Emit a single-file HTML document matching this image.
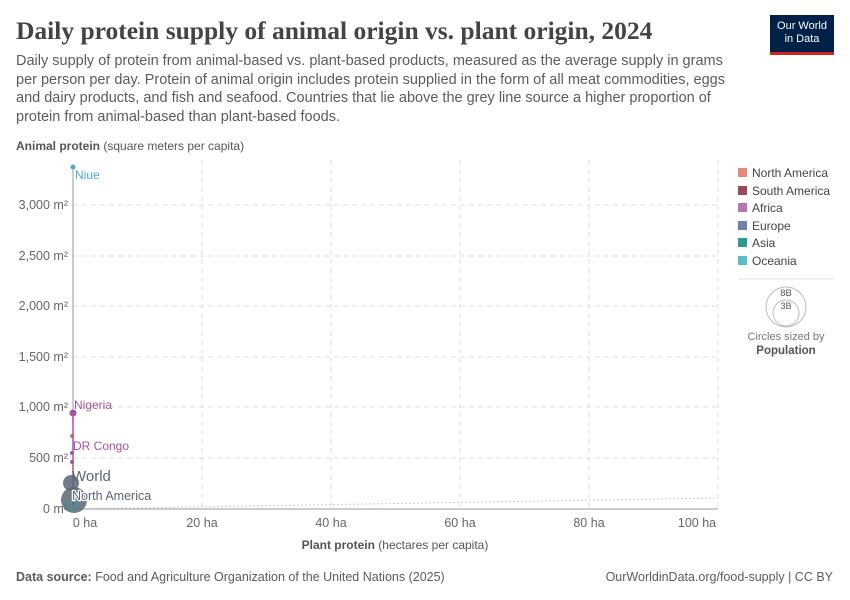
<!DOCTYPE html>
<html><head><meta charset="utf-8"><style>
body{margin:0;width:850px;height:600px;background:#fff;font-family:"Liberation Sans",sans-serif;overflow:hidden;position:relative}
.t{position:absolute;white-space:nowrap}
</style></head><body>
<div class="t" style="left:16px;top:16px;font-family:'Liberation Serif',serif;font-size:25.5px;font-weight:bold;color:#444">Daily protein supply of animal origin vs. plant origin, 2024</div>
<div style="position:absolute;left:770px;top:15px;width:64px;height:37px;background:#002147;border-bottom:3px solid #ce261e;color:#fff;font-size:11px;line-height:13px;text-align:center;padding-top:0"><div style="padding-top:5px">Our World<br>in Data</div></div>
<div class="t" style="left:16px;top:52px;font-size:14.5px;line-height:18.5px;color:#5b5b5b;white-space:normal;width:728px">Daily supply of protein from animal-based vs. plant-based products, measured as the average supply in grams per person per day. Protein of animal origin includes protein supplied in the form of all meat commodities, eggs and dairy products, and fish and seafood. Countries that lie above the grey line source a higher proportion of protein from animal-based than plant-based foods.</div>
<div class="t" style="left:16px;top:139px;font-size:12px;color:#555"><b>Animal protein</b> (square meters per capita)</div>
<svg width="850" height="600" style="position:absolute;left:0;top:0">
<g stroke="#ddd" stroke-dasharray="5,4" fill="none">
<line x1="73" x2="718" y1="205" y2="205"/><line x1="73" x2="718" y1="256" y2="256"/><line x1="73" x2="718" y1="306" y2="306"/><line x1="73" x2="718" y1="357" y2="357"/><line x1="73" x2="718" y1="407" y2="407"/><line x1="73" x2="718" y1="458" y2="458"/>
<line x1="202" x2="202" y1="160" y2="509"/><line x1="331" x2="331" y1="160" y2="509"/><line x1="460" x2="460" y1="160" y2="509"/><line x1="589" x2="589" y1="160" y2="509"/><line x1="718" x2="718" y1="160" y2="509"/>
</g>
<line x1="73" y1="509" x2="718" y2="498" stroke="#ccc" stroke-dasharray="2,2"/>
<line x1="73" y1="509" x2="718" y2="509" stroke="#999"/>
<line x1="73" y1="168" x2="73" y2="509" stroke="#999"/>
<g font-size="12.5" fill="#666" text-anchor="end">
<text x="68" y="209">3,000 m²</text><text x="68" y="260">2,500 m²</text><text x="68" y="310">2,000 m²</text><text x="68" y="361">1,500 m²</text><text x="68" y="411">1,000 m²</text><text x="68" y="462">500 m²</text><text x="68" y="513">0 m²</text>
</g>
<g font-size="12.5" fill="#666" text-anchor="middle">
<text x="85" y="527">0 ha</text><text x="202" y="527">20 ha</text><text x="331" y="527">40 ha</text><text x="460" y="527">60 ha</text><text x="589" y="527">80 ha</text><text x="697" y="527">100 ha</text>
</g>
<circle cx="73" cy="167" r="2.5" fill="#4bacc6"/>
<circle cx="73" cy="413" r="3.5" fill="#a2559c"/>
<circle cx="72" cy="436" r="2" fill="#e56e5a"/>
<circle cx="72" cy="453" r="2" fill="#a2559c"/><circle cx="72" cy="462" r="2" fill="#a2559c"/>
<line x1="73" y1="413" x2="73" y2="505" stroke="#a2559c" stroke-width="1.5"/>
<circle cx="71" cy="483" r="8" fill="#5b6675" opacity="0.85"/>
<circle cx="74" cy="500" r="13" fill="#5b6675" opacity="0.85"/>
<circle cx="72" cy="505" r="5" fill="none" stroke="#2a9d8f"/>
<text x="75" y="179" font-size="12" fill="#4bacc6">Niue</text>
<text x="74" y="409" font-size="12" fill="#a2559c">Nigeria</text>
<text x="73" y="450" font-size="12" fill="#a2559c">DR Congo</text>
<text x="72" y="481" font-size="15" fill="#5b6675">World</text>
<text x="72" y="500" font-size="12.5" fill="#5b6675" stroke="#fff" stroke-width="2.5" paint-order="stroke">North America</text>
<g font-size="12" fill="#444">
<rect x="738" y="168" width="9" height="9" fill="#e6877a"/><text x="752" y="177">North America</text>
<rect x="738" y="186" width="9" height="9" fill="#9b4a5a"/><text x="752" y="195">South America</text>
<rect x="738" y="203" width="9" height="9" fill="#b874b2"/><text x="752" y="212">Africa</text>
<rect x="738" y="221" width="9" height="9" fill="#6d83ad"/><text x="752" y="230">Europe</text>
<rect x="738" y="238" width="9" height="9" fill="#2a9d8f"/><text x="752" y="247">Asia</text>
<rect x="738" y="256" width="9" height="9" fill="#5bbdc7"/><text x="752" y="265">Oceania</text>
</g>
<line x1="738" y1="279" x2="833" y2="279" stroke="#ddd"/>
<circle cx="786" cy="307" r="20" fill="none" stroke="#bbb"/>
<circle cx="786" cy="313" r="13" fill="none" stroke="#bbb"/>
<text x="786" y="296" font-size="9.5" fill="#555" text-anchor="middle">8B</text>
<text x="786" y="309" font-size="9" fill="#555" text-anchor="middle">3B</text>
<text x="786" y="340" font-size="11" fill="#777" text-anchor="middle">Circles sized by</text>
<text x="786" y="354" font-size="11.5" fill="#555" font-weight="bold" text-anchor="middle">Population</text>
<text x="395" y="549" font-size="12" fill="#555" text-anchor="middle"><tspan font-weight="bold">Plant protein</tspan> (hectares per capita)</text>
</svg>
<div class="t" style="left:16px;top:570px;font-size:12.5px;color:#5b5b5b"><b>Data source:</b> Food and Agriculture Organization of the United Nations (2025)</div>
<div class="t" style="right:17px;top:570px;font-size:12.5px;color:#5b5b5b">OurWorldinData.org/food-supply | CC BY</div>
</body></html>
